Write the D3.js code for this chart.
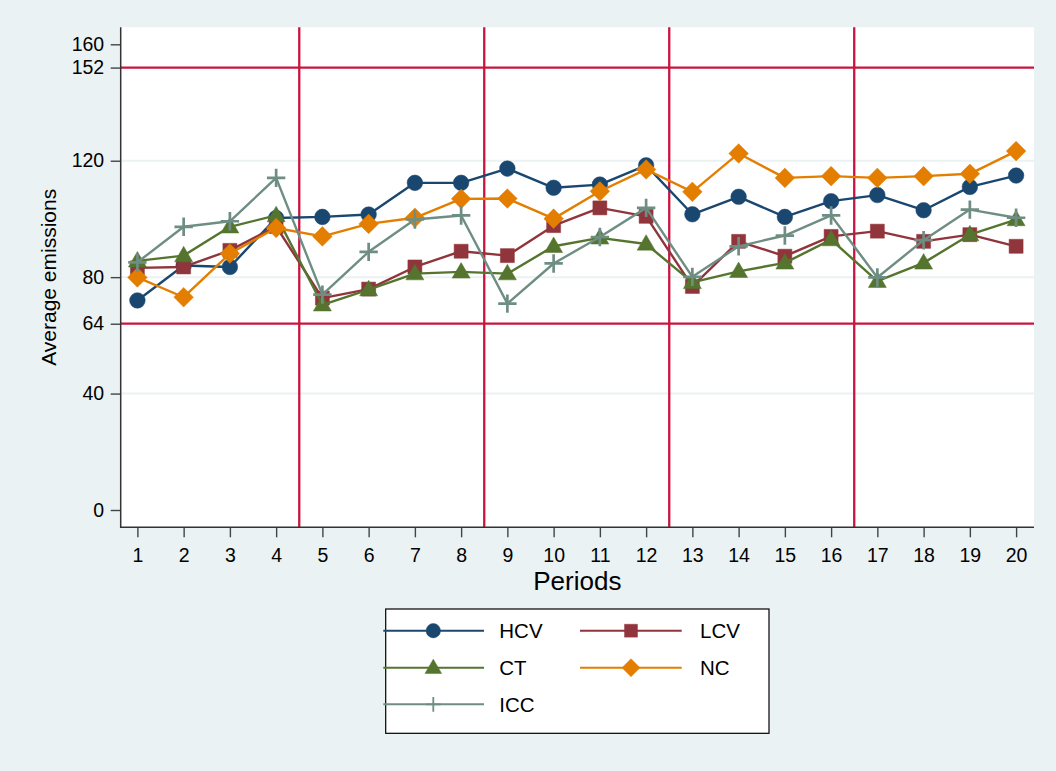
<!DOCTYPE html>
<html>
<head>
<meta charset="utf-8">
<script src="https://cdn.jsdelivr.net/npm/d3@7"></script>
<style>
  html, body { margin: 0; padding: 0; background: #eaf2f3; }
  svg { display: block; font-family: "Liberation Sans", Arial, Helvetica, sans-serif; }
</style>
</head>
<body>
<svg id="chart" width="1056" height="771"></svg>
<script>
// ---- Data ----
const periods = [1, 2, 3, 4, 5, 6, 7, 8, 9, 10, 11, 12, 13, 14, 15, 16, 17, 18, 19, 20];
const seriesNames = ["HCV", "LCV", "CT", "NC", "ICC"];
const hcv = [72.0, 84.0, 83.5, 100.3, 100.7, 101.5, 112.4, 112.4, 117.3, 110.7, 111.8, 118.4, 101.6, 107.6, 100.7, 106.1, 108.2, 103.0, 111.0, 114.9];
const lcv = [83.2, 83.5, 89.2, 97.4, 72.8, 75.9, 83.5, 88.9, 87.4, 97.7, 103.8, 100.9, 76.8, 92.3, 87.2, 94.0, 95.8, 92.3, 94.6, 90.6];
const ct  = [85.6, 87.4, 97.3, 101.2, 70.5, 75.7, 81.2, 81.8, 81.2, 90.6, 93.5, 91.4, 78.2, 82.0, 84.9, 92.9, 78.6, 84.9, 94.6, 99.8];
const nc  = [79.9, 73.1, 88.1, 96.9, 94.0, 98.3, 100.4, 106.9, 107.0, 100.1, 109.5, 117.0, 109.3, 122.5, 114.1, 114.7, 114.1, 114.7, 115.5, 123.3];
const icc = [85.1, 97.3, 99.2, 114.1, 74.0, 88.7, 99.8, 101.2, 70.9, 84.7, 93.8, 103.8, 80.1, 90.6, 94.3, 101.2, 79.9, 92.7, 103.2, 100.4];
const yTickValues = [0, 40, 64, 80, 120, 152, 160];
const gridValues = [40, 80, 120];
const refYValues = [64, 152];
const refXValues = [4.5, 8.5, 12.5, 16.5];
const xLabel = "Periods";
const yLabel = "Average emissions";

// ---- Styles ----
const colors = { HCV: "#1a476f", LCV: "#90353b", CT: "#55752f", NC: "#e37e00", ICC: "#6e8e84" };
const shapes = { HCV: "circle", LCV: "square", CT: "triangle", NC: "diamond", ICC: "plus" };
const seriesData = { HCV: hcv, LCV: lcv, CT: ct, NC: nc, ICC: icc };

const svg = d3.select("#chart");
const W = 1056, H = 771;
const plot = { left: 120.7, right: 1034, top: 27.3, bottom: 527.3 };

svg.append("rect").attr("width", W).attr("height", H).attr("fill", "#eaf2f3");
svg.append("rect")
  .attr("x", plot.left).attr("y", plot.top)
  .attr("width", plot.right - plot.left).attr("height", plot.bottom - plot.top)
  .attr("fill", "#ffffff");

const x = d3.scaleLinear().domain([1, 20]).range([137.4, 1016.1]);
const y = d3.scaleLinear().domain([0, 160]).range([510, 44.3]);

// gridlines
svg.append("g").selectAll("line").data(gridValues).join("line")
  .attr("x1", plot.left).attr("x2", plot.right)
  .attr("y1", d => y(d)).attr("y2", d => y(d))
  .attr("stroke", "#eaf2f3").attr("stroke-width", 2);

// reference lines
const refColor = "#c9143f";
svg.append("g").selectAll("line").data(refYValues).join("line")
  .attr("x1", plot.left).attr("x2", plot.right)
  .attr("y1", d => y(d)).attr("y2", d => y(d))
  .attr("stroke", refColor).attr("stroke-width", 2.3);
svg.append("g").selectAll("line").data(refXValues).join("line")
  .attr("x1", d => x(d)).attr("x2", d => x(d))
  .attr("y1", plot.top).attr("y2", plot.bottom)
  .attr("stroke", refColor).attr("stroke-width", 2.3);

// axes
const yAxis = d3.axisLeft(y).tickValues(yTickValues).tickSize(10).tickPadding(6.5).tickFormat(d3.format("d"));
const gy = svg.append("g").attr("transform", `translate(${plot.left},0)`).call(yAxis);
gy.select(".domain").remove();
gy.selectAll(".tick line").attr("stroke", "#444").attr("stroke-width", 1.4);
gy.selectAll(".tick text").attr("font-size", 19.5).attr("fill", "#000")
  .attr("font-family", "Liberation Sans, Arial, sans-serif");

const xAxis = d3.axisBottom(x).tickValues(periods).tickSize(10).tickPadding(11).tickFormat(d3.format("d"));
const gx = svg.append("g").attr("transform", `translate(0,${plot.bottom})`).call(xAxis);
gx.select(".domain").remove();
gx.selectAll(".tick line").attr("stroke", "#444").attr("stroke-width", 1.4);
gx.selectAll(".tick text").attr("font-size", 19.5).attr("fill", "#000")
  .attr("font-family", "Liberation Sans, Arial, sans-serif");

// axis lines
svg.append("line").attr("x1", plot.left).attr("x2", plot.left)
  .attr("y1", plot.top).attr("y2", plot.bottom + 0.7)
  .attr("stroke", "#333").attr("stroke-width", 1.5);
svg.append("line").attr("x1", plot.left - 0.7).attr("x2", plot.right)
  .attr("y1", plot.bottom).attr("y2", plot.bottom)
  .attr("stroke", "#333").attr("stroke-width", 1.5);

// axis titles
svg.append("text").attr("x", (plot.left + plot.right) / 2).attr("y", 590)
  .attr("text-anchor", "middle").attr("font-size", 26).attr("fill", "#000").text(xLabel);
svg.append("text")
  .attr("transform", `translate(55.5,${(plot.top + plot.bottom) / 2}) rotate(-90)`)
  .attr("text-anchor", "middle").attr("font-size", 21).attr("fill", "#000").text(yLabel);

// marker path generator
function markerPath(shape, s) {
  s = s || 1;
  switch (shape) {
    case "circle": {
      const r = 7.8 * s;
      return `M${-r},0A${r},${r} 0 1,0 ${r},0A${r},${r} 0 1,0 ${-r},0Z`;
    }
    case "square": {
      const h = 7 * s;
      return `M${-h},${-h}H${h}V${h}H${-h}Z`;
    }
    case "triangle": {
      const w = 9 * s, ht = 15.5 * s;
      return `M0,${-ht * 0.6}L${w},${ht * 0.4}L${-w},${ht * 0.4}Z`;
    }
    case "diamond": {
      const d = 9.8 * s;
      return `M0,${-d}L${d},0L0,${d}L${-d},0Z`;
    }
    case "plus": {
      const p = 9.2 * s;
      return `M${-p},0H${p}M0,${-p}V${p}`;
    }
  }
}

const line = d3.line().x((d, i) => x(periods[i])).y(d => y(d));

seriesNames.forEach(name => {
  const vals = seriesData[name];
  const c = colors[name];
  const g = svg.append("g");
  g.append("path").attr("d", line(vals)).attr("fill", "none")
    .attr("stroke", c).attr("stroke-width", 2.4).attr("stroke-linejoin", "round");
  g.selectAll("path.m").data(vals).join("path").attr("class", "m")
    .attr("transform", (d, i) => `translate(${x(periods[i])},${y(d)})`)
    .attr("d", markerPath(shapes[name]))
    .attr("fill", shapes[name] === "plus" ? "none" : c)
    .attr("stroke", c)
    .attr("stroke-width", shapes[name] === "plus" ? 2.7 : 0.5);
});

// legend
svg.append("rect").attr("x", 385.7).attr("y", 609).attr("width", 383.3).attr("height", 124.3)
  .attr("fill", "#ffffff").attr("stroke", "#000").attr("stroke-width", 1.2);

const legendPos = {
  HCV: { x1: 383.3, x2: 484, mx: 433.3, tx: 499.3, y: 630.7 },
  LCV: { x1: 580, x2: 681.7, mx: 631, tx: 700, y: 630.7 },
  CT:  { x1: 383.3, x2: 484, mx: 433.3, tx: 499.3, y: 667.7 },
  NC:  { x1: 580, x2: 681.7, mx: 631, tx: 700, y: 667.7 },
  ICC: { x1: 383.3, x2: 484, mx: 433.3, tx: 499.3, y: 704.3 }
};
seriesNames.forEach(name => {
  const p = legendPos[name];
  const c = colors[name];
  svg.append("line").attr("x1", p.x1).attr("x2", p.x2).attr("y1", p.y).attr("y2", p.y)
    .attr("stroke", c).attr("stroke-width", 2);
  const isPlus = shapes[name] === "plus";
  svg.append("path").attr("transform", `translate(${p.mx},${p.y})`)
    .attr("d", markerPath(shapes[name], isPlus ? 0.8 : 0.92))
    .attr("fill", isPlus ? "none" : c).attr("stroke", c)
    .attr("stroke-width", isPlus ? 1.8 : 0.5);
  svg.append("text").attr("x", p.tx).attr("y", p.y + 7.3)
    .attr("font-size", 20.5).attr("fill", "#000").text(name);
});
</script>
</body>
</html>
